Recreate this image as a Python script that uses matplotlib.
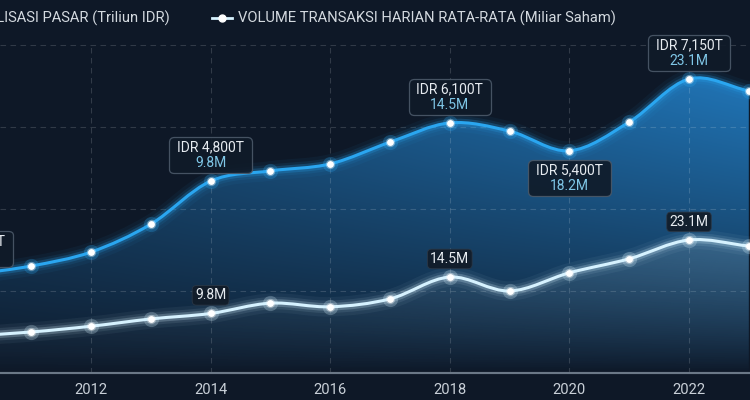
import numpy as np
import matplotlib
matplotlib.use("Agg")
import matplotlib.pyplot as plt
from matplotlib.path import Path
from matplotlib.patches import PathPatch
from matplotlib.lines import Line2D
from matplotlib.offsetbox import TextArea, VPacker, HPacker, DrawingArea, AnnotationBbox

# data
years = [2010, 2011, 2012, 2013, 2014, 2015, 2016, 2017, 2018, 2019, 2020, 2021, 2022, 2023]
market_cap = [2400, 2610, 2950, 3630, 4680, 4930, 5100, 5630, 6100, 5900, 5420, 6120, 7170, 6880]
volume = [6.1, 6.75, 7.7, 8.9, 9.8, 11.5, 10.9, 12.2, 15.8, 13.5, 16.5, 18.8, 21.9, 20.9]

cap_label_years = [2010, 2014, 2018, 2020, 2022]
cap_labels = ["IDR 2,400T", "IDR 4,800T", "IDR 6,100T", "IDR 5,400T", "IDR 7,150T"]
cap_sublabels = ["4.2M", "9.8M", "14.5M", "18.2M", "23.1M"]
cap_below = [False, False, False, True, False]

vol_label_years = [2014, 2018, 2022]
vol_labels = ["9.8M", "14.5M", "23.1M"]

xticks = [2012, 2014, 2016, 2018, 2020, 2022]
legend_labels = ["KAPITALISASI PASAR (Triliun IDR)",
                 "VOLUME TRANSAKSI HARIAN RATA-RATA (Miliar Saham)"]

BG = "#0e1827"
BG_RGB = np.array([14, 24, 39]) / 255
BLUE = "#2aa6f0"
WHITE = "#d6f2ff"
FONT = ["Roboto", "DejaVu Sans"]
plt.rcParams["font.family"] = FONT


def smooth_verts(x, y):
    # catmull-rom through the points, as cubic bezier segments
    x = np.asarray(x, float)
    y = np.asarray(y, float)
    px = np.concatenate([[2 * x[0] - x[1]], x, [2 * x[-1] - x[-2]]])
    py = np.concatenate([[2 * y[0] - y[1]], y, [2 * y[-1] - y[-2]]])
    verts = [(x[0], y[0])]
    codes = [Path.MOVETO]
    for j in range(1, len(x)):
        c1 = (px[j] + (px[j + 1] - px[j - 1]) / 6, py[j] + (py[j + 1] - py[j - 1]) / 6)
        c2 = (px[j + 1] - (px[j + 2] - px[j]) / 6, py[j + 1] - (py[j + 2] - py[j]) / 6)
        verts += [c1, c2, (px[j + 1], py[j + 1])]
        codes += [Path.CURVE4] * 3
    return verts, codes


def glow_line(ax, x, y, color, core_lw):
    verts, codes = smooth_verts(x, y)
    path = Path(verts, codes)
    for lw, a in [(14, 0.05), (9, 0.09), (5.5, 0.22), (core_lw, 1.0)]:
        ax.add_patch(PathPatch(path, fc="none", ec=color, lw=lw, alpha=a,
                               capstyle="round", joinstyle="round", zorder=4))
    ax.scatter(x, y, s=120, color=color, alpha=0.25, lw=0, zorder=5)
    ax.scatter(x, y, s=45, color="white", alpha=0.35, lw=0, zorder=5)
    ax.scatter(x, y, s=24, color="white", lw=0, zorder=6)


def area_clip(ax, x, y, ylo):
    verts, codes = smooth_verts(x, y)
    verts = [(x[0], ylo)] + verts + [(x[-1], ylo), (x[0], ylo)]
    codes = [Path.MOVETO] + [Path.LINETO] + codes[1:] + [Path.LINETO, Path.CLOSEPOLY]
    patch = PathPatch(Path(verts, codes), fc="none", ec="none")
    ax.add_patch(patch)
    return patch


fig = plt.figure(figsize=(7.5, 4), dpi=100, facecolor=BG)
ax = fig.add_axes([0, 27 / 400, 1, 328 / 400])
ax.set_facecolor(BG)
ax2 = ax.twinx()
ax2.patch.set_visible(False)

xlo = 2012 - 91 / 59.8
xhi = xlo + 750 / 59.8

# gradient shading: brighter to the right and towards the top
xn = np.linspace(0, 1, 200)[None, :]
yn = np.linspace(1, 0, 200)[:, None]
fx = 0.5 + 0.5 * xn
w = fx * yn ** 0.75
top_blue = np.array([34, 125, 195]) / 255
img = np.ones((200, 200, 4))
for k in range(3):
    img[:, :, k] = BG_RGB[k] + (top_blue[k] - BG_RGB[k]) * w
im = ax.imshow(img, extent=[xlo, xhi, 0, 8000], aspect="auto", origin="upper",
               zorder=1, interpolation="bilinear")
im.set_clip_path(area_clip(ax, years, market_cap, 0))

grey = np.array([150, 185, 205]) / 255
img2 = np.zeros((200, 200, 4))
img2[:, :, :3] = grey
img2[:, :, 3] = np.clip(0.62 * yn * fx, 0, 1)
im2 = ax2.imshow(img2, extent=[xlo, xhi, 0, 54], aspect="auto", origin="upper",
                 zorder=1, interpolation="bilinear")
im2.set_clip_path(area_clip(ax2, years, volume, 0))

glow_line(ax, years, market_cap, BLUE, 2.2)
glow_line(ax2, years, volume, WHITE, 2.2)

ax.set_xlim(xlo, xhi)
ax.set_ylim(0, 8000)
ax2.set_ylim(0, 54)

ax.set_xticks(xticks)
ax.set_xticklabels([str(v) for v in xticks])
ax.set_yticks([2000, 4000, 6000, 8000])
ax.tick_params(axis="x", length=0, pad=7, colors="#c9d0d8", labelsize=10.6)
ax.tick_params(axis="y", length=0, labelleft=False)
ax2.tick_params(axis="y", length=0, labelright=False)
ax.grid(True, color="white", alpha=0.15, lw=0.8, ls=(0, (5, 4)))
for a in (ax, ax2):
    for s in ("left", "right", "top"):
        a.spines[s].set_visible(False)
    a.spines["bottom"].set_color("#6b7887")
    a.spines["bottom"].set_linewidth(1.5)
ax.set_zorder(1)
ax2.set_zorder(2)

# value labels on the market cap line
for yr, top, sub, below in zip(cap_label_years, cap_labels, cap_sublabels, cap_below):
    v = market_cap[years.index(yr)]
    inner = VPacker(children=[TextArea(top, textprops=dict(color="#e6ebf0", fontsize=10, family=FONT)),
                              TextArea(sub, textprops=dict(color="#7fc6e6", fontsize=10, family=FONT))],
                    align="center", pad=0, sep=1)
    box = HPacker(children=[DrawingArea(3, 1), inner, DrawingArea(3, 1)],
                  align="center", pad=0, sep=0)
    ab = AnnotationBbox(box, (yr, v), xybox=(0, -9 if below else 8),
                        boxcoords="offset points",
                        box_alignment=(0.5, 1.0 if below else 0.0),
                        frameon=True, pad=0.25, annotation_clip=False,
                        bboxprops=dict(boxstyle="round,pad=0.25,rounding_size=0.35",
                                       fc="#101b29", ec="#4a5868", lw=0.9, alpha=0.92),
                        zorder=7)
    ax.add_artist(ab)

# value labels on the volume line
for yr, lab in zip(vol_label_years, vol_labels):
    v = volume[years.index(yr)]
    ax2.annotate(lab, (yr, v), xytext=(0, 8), textcoords="offset points",
                 ha="center", va="bottom", color="#e6ebf0", fontsize=10,
                 bbox=dict(boxstyle="round,pad=0.2,rounding_size=0.3",
                           fc="#121c28", ec="#2c3846", lw=0.6, alpha=0.92),
                 zorder=7)

# legend across the top
ly = 1 - 18 / 400
fig.text(170 / 750, ly, legend_labels[0], ha="right", va="center",
         color="#d3d9df", fontsize=10.6)
fig.text(238 / 750, ly, legend_labels[1], ha="left", va="center",
         color="#d3d9df", fontsize=10.6)
fig.add_artist(Line2D([-80 / 750, -60 / 750], [ly, ly], color=BLUE, lw=2,
                      transform=fig.transFigure))
fig.add_artist(Line2D([212 / 750, 232 / 750], [ly, ly], color=WHITE, lw=2,
                      transform=fig.transFigure))
fig.add_artist(Line2D([222 / 750], [ly], color="white", marker="o", markersize=5,
                      lw=0, transform=fig.transFigure))

fig.savefig("out.png", dpi=100, facecolor=BG)
